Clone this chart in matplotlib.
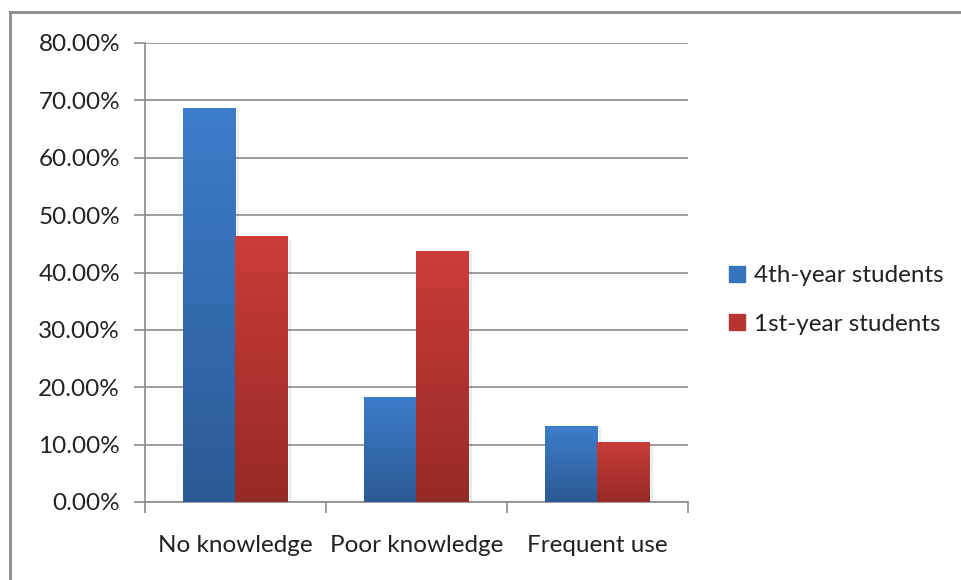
import numpy as np
import matplotlib.pyplot as plt
from matplotlib.colors import LinearSegmentedColormap
from matplotlib.lines import Line2D

categories = ["No knowledge", "Poor knowledge", "Frequent use"]
fourth_year = [68.6, 18.3, 13.1]
first_year = [46.2, 43.6, 10.3]
series_names = ["4th-year students", "1st-year students"]
yticks = [0, 10, 20, 30, 40, 50, 60, 70, 80]

plt.rcParams['font.family'] = ['Lato', 'DejaVu Sans']

fig = plt.figure(figsize=(9.62, 5.80), dpi=100)
ax = fig.add_axes([145 / 962, 1 - 502 / 580, (688 - 145) / 962, (502 - 43) / 580])

x = np.arange(len(categories))
w = 0.288
blue_top, blue_bot = "#3C7DCB", "#2C5A95"
red_top, red_bot = "#CC3C39", "#952A27"

b1 = ax.bar(x - w / 2, fourth_year, w, color=blue_top, zorder=3, linewidth=0)
b2 = ax.bar(x + w / 2, first_year, w, color=red_top, zorder=3, linewidth=0)


def shade(bars, top, bot):
    cmap = LinearSegmentedColormap.from_list("g", [bot, top])
    grad = np.linspace(0, 1, 256).reshape(-1, 1)
    for r in bars:
        x0, y0 = r.get_x(), r.get_y()
        ww, hh = r.get_width(), r.get_height()
        r.set_facecolor("none")
        ax.imshow(grad, cmap=cmap, origin="lower", aspect="auto",
                  extent=[x0, x0 + ww, y0, y0 + hh], zorder=3,
                  interpolation="bilinear")
        # soft drop shadow on the right side
        ax.bar(x0 + ww + 0.006, hh - 0.3, 0.012, bottom=y0, align="edge",
               color="#000000", alpha=0.08, zorder=2, linewidth=0)


shade(b1, blue_top, blue_bot)
shade(b2, red_top, red_bot)
ax.set_xlim(-0.5, len(categories) - 0.5)
ax.set_ylim(0, 80)

ax.set_yticks(yticks)
ax.set_yticklabels([f"{v:.2f}%" for v in yticks], fontsize=17.5, color="#222222")
ax.yaxis.grid(True, color="#8C8C8C", linewidth=1.2, zorder=0)
ax.set_axisbelow(True)

ax.set_xticks(x)
ax.set_xticklabels(categories, fontsize=17.5, color="#222222")
ax.tick_params(axis="x", which="major", length=0, pad=24)
ax.set_xticks(np.arange(-0.5, len(categories)), minor=True)
ax.tick_params(axis="x", which="minor", length=8, color="#8C8C8C", width=1.2)
ax.tick_params(axis="y", length=8, color="#8C8C8C", width=1.2, pad=10)

for s in ["top", "right"]:
    ax.spines[s].set_visible(False)
for s in ["left", "bottom"]:
    ax.spines[s].set_color("#8C8C8C")
    ax.spines[s].set_linewidth(1.2)

handles = [Line2D([], [], marker="s", linestyle="none", markersize=11,
                  markerfacecolor=c, markeredgecolor=c)
           for c in ["#3573BD", "#B83432"]]
fig.legend(handles, series_names, loc="center left",
           bbox_to_anchor=(705 / 962, 1 - 300 / 580), frameon=False,
           fontsize=17.5, handletextpad=0.3, labelspacing=1.15,
           handlelength=0.8, labelcolor="#222222")

# outer chart border
fig.add_artist(Line2D([10 / 962, 10 / 962], [0, 1 - 12 / 580],
                      transform=fig.transFigure, color="#8A8A8A", linewidth=2))
fig.add_artist(Line2D([10 / 962, 1], [1 - 12 / 580, 1 - 12 / 580],
                      transform=fig.transFigure, color="#8A8A8A", linewidth=2))

fig.savefig("out.png", dpi=100)
